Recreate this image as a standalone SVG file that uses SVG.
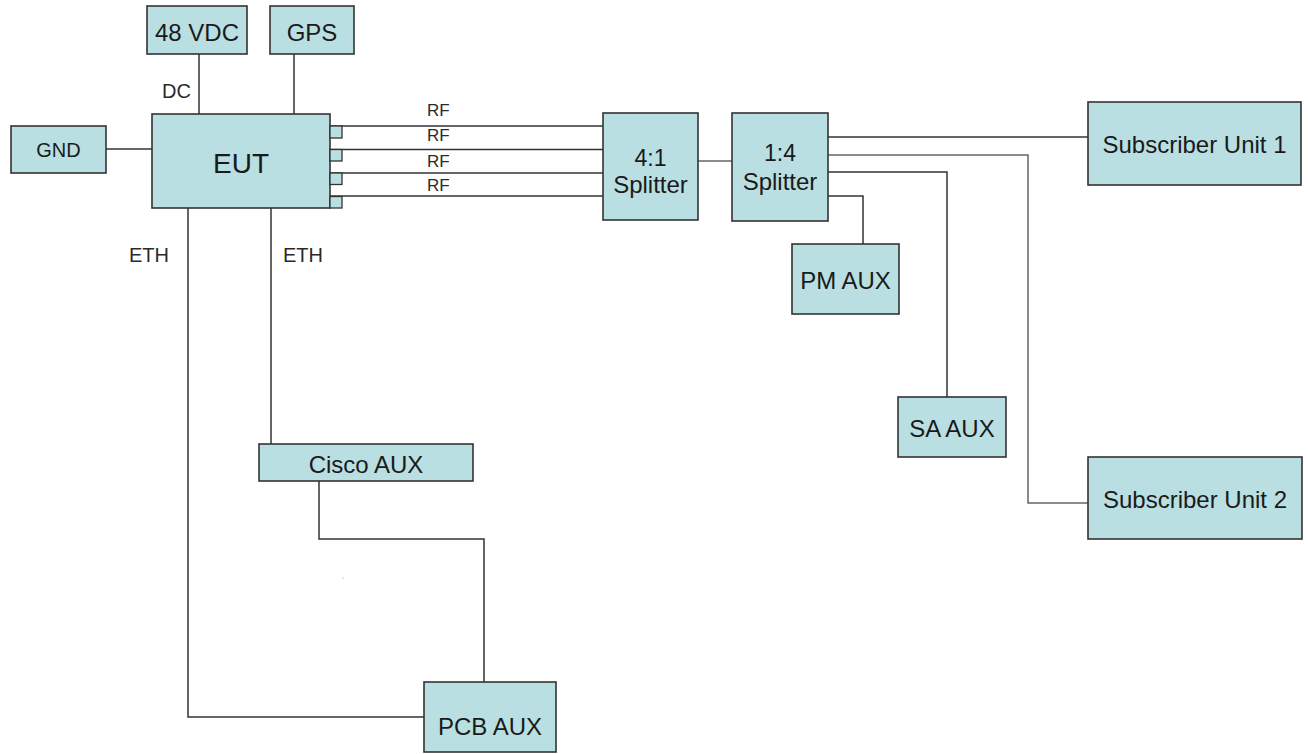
<svg xmlns="http://www.w3.org/2000/svg" width="1308" height="754" viewBox="0 0 1308 754">
<style>
.box{fill:#b9dfe2;stroke:#333;stroke-width:1.6}
.port{fill:#b9dfe2;stroke:#333;stroke-width:1.3}
.t{font-family:"Liberation Sans",Arial,sans-serif;font-size:24px;fill:#1a1a1a;text-anchor:middle}
.lbl{font-family:"Liberation Sans",Arial,sans-serif;fill:#2a2a2a}
.ln{fill:none;stroke:#333;stroke-width:1.5}
.lg{fill:none;stroke:#666;stroke-width:1.5}
</style>
<rect width="1308" height="754" fill="#fff"/>
<g id="connectors">
<path class="ln" d="M199 54V114"/>
<path class="ln" d="M294 54V114"/>
<path class="ln" d="M106 149H152"/>
<path class="ln" d="M330 126H603"/>
<path class="ln" d="M330 149.5H603"/>
<path class="ln" d="M330 173H603"/>
<path class="ln" d="M330 196H603"/>
<path class="lg" d="M698 161H732"/>
<path class="ln" d="M828 137H1088"/>
<path class="lg" d="M828 155H1028V503H1088"/>
<path class="ln" d="M828 172H947V397"/>
<path class="ln" d="M828 196H863V244"/>
<path class="ln" d="M188 208V717H424"/>
<path class="ln" d="M271 208V444"/>
<path class="ln" d="M319 481V539H484V682"/>
<rect x="342.5" y="577.5" width="1" height="1" fill="#999"/>
</g>
<g id="labels">
<text class="lbl" x="162" y="98" font-size="20">DC</text>
<text class="lbl" x="427" y="116" font-size="17">RF</text>
<text class="lbl" x="427" y="141" font-size="17">RF</text>
<text class="lbl" x="427" y="167" font-size="17">RF</text>
<text class="lbl" x="427" y="191" font-size="17">RF</text>
<text class="lbl" x="129" y="262" font-size="20">ETH</text>
<text class="lbl" x="283" y="262" font-size="20">ETH</text>
</g>
<g id="vdc"><rect class="box" x="147" y="6" width="100" height="48"/><text class="t" x="197" y="41">48 VDC</text></g>
<g id="gps"><rect class="box" x="270" y="6" width="84" height="48"/><text class="t" x="312" y="41">GPS</text></g>
<g id="gnd"><rect class="box" x="11" y="126" width="95" height="47"/><text class="t" x="58.5" y="157" style="font-size:20px">GND</text></g>
<g id="eut"><rect class="box" x="152" y="114" width="178" height="94"/><text class="t" x="241" y="173" style="font-size:28px">EUT</text>
<rect class="port" x="330" y="126" width="12" height="12"/>
<rect class="port" x="330" y="149.5" width="12" height="11.5"/>
<rect class="port" x="330" y="173" width="12" height="11.5"/>
<rect class="port" x="330" y="196.5" width="12" height="11.5"/>
</g>
<g id="split41"><rect class="box" x="603" y="113" width="95" height="107"/><text class="t" x="650.5" y="166" style="font-size:23px">4:1</text><text class="t" x="650.5" y="193">Splitter</text></g>
<g id="split14"><rect class="box" x="732" y="113" width="96" height="108"/><text class="t" x="780" y="161" style="font-size:23px">1:4</text><text class="t" x="780" y="190">Splitter</text></g>
<g id="pmaux"><rect class="box" x="792" y="244" width="107" height="70"/><text class="t" x="845.5" y="289">PM AUX</text></g>
<g id="saaux"><rect class="box" x="898" y="397" width="108" height="60"/><text class="t" x="952" y="437">SA AUX</text></g>
<g id="su1"><rect class="box" x="1088" y="102" width="213" height="83"/><text class="t" x="1194.5" y="153">Subscriber Unit 1</text></g>
<g id="su2"><rect class="box" x="1088" y="457" width="214" height="82"/><text class="t" x="1195" y="508">Subscriber Unit 2</text></g>
<g id="cisco"><rect class="box" x="259" y="444" width="214" height="37"/><text class="t" x="366" y="473">Cisco AUX</text></g>
<g id="pcb"><rect class="box" x="424" y="682" width="132" height="70"/><text class="t" x="490" y="735">PCB AUX</text></g>
</svg>
